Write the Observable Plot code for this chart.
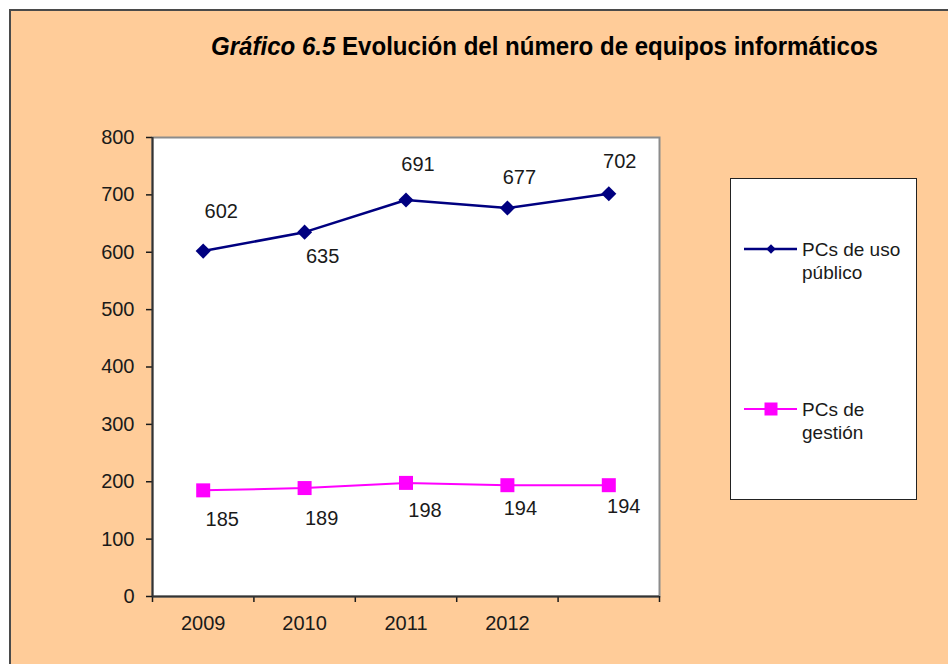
<!DOCTYPE html>
<html><head><meta charset="utf-8">
<script src="https://cdn.jsdelivr.net/npm/d3@7"></script>
<script src="https://cdn.jsdelivr.net/npm/@observablehq/plot@0.6"></script>
<style>
html,body{margin:0;padding:0;background:#fff;width:948px;height:664px;overflow:hidden;}
#page{position:absolute;left:9px;top:9px;width:960px;height:680px;background:#FFCC99;border:2px solid #4a4a4a;box-sizing:border-box;}
#chart{position:absolute;left:0;top:0;width:948px;height:664px;font-family:"Liberation Sans",Arial,sans-serif;}
#title{position:relative;width:948px;height:100px;}
#title svg, #legend svg{display:block;}
#plot svg{display:block;}
#legend{position:absolute;left:730px;top:178px;width:187px;height:322px;background:#fff;border:1.5px solid #222;box-sizing:border-box;}
</style>
</head><body>
<div id="page"></div>
<div id="chart">
  <div id="title"></div>
  <div id="plot"></div>
  <div id="legend"></div>
</div>
<script>
// ---- data ----
const years = ["2009", "2010", "2011", "2012", "2013"];
const tickLabels = ["2009", "2010", "2011", "2012", ""];
const publicos = [602, 635, 691, 677, 702];
const gestion = [185, 189, 198, 194, 194];
const seriesNames = ["PCs de uso público", "PCs de gestión"];
const legendLines = [["PCs de uso", "público"], ["PCs de", "gestión"]];
const titleItalic = "Gráfico 6.5";
const titleRest = " Evolución del número de equipos informáticos";
const yTicks = [0, 100, 200, 300, 400, 500, 600, 700, 800];

// ---- layout (label offsets, px) ----
const pubLabelOffset = [[18, -40], [18, 24], [12, -35], [12, -30], [11, -32]];
const gesLabelOffset = [[19, 29], [17, 31], [19, 28], [13, 23], [15, 21]];

const NAVY = "#000080", MAGENTA = "#FF00FF";
const FONT = "Liberation Sans, Arial, sans-serif";

// ---- title ----
const tsvg = d3.select("#title").append("svg").attr("width", 948).attr("height", 100);
const tt = tsvg.append("text").attr("x", 211).attr("y", 55)
  .attr("font-family", FONT).attr("font-size", 25).attr("font-weight", "bold").attr("fill", "#000")
  .attr("textLength", 667).attr("lengthAdjust", "spacingAndGlyphs");
tt.append("tspan").attr("font-style", "italic").text(titleItalic);
tt.append("tspan").text(titleRest);

// ---- chart ----
const rowsP = years.map((yr, i) => ({i, year: yr, v: publicos[i], s: seriesNames[0]}));
const rowsG = years.map((yr, i) => ({i, year: yr, v: gestion[i], s: seriesNames[1]}));
const xc = d => d.i + 0.5;

const labelMarks = [
  ...rowsP.map((d, k) => Plot.text([d], {x: xc, y: "v", text: d => String(d.v), dx: pubLabelOffset[k][0], dy: pubLabelOffset[k][1], fontSize: 20, fill: "#1a1a1a"})),
  ...rowsG.map((d, k) => Plot.text([d], {x: xc, y: "v", text: d => String(d.v), dx: gesLabelOffset[k][0], dy: gesLabelOffset[k][1], fontSize: 20, fill: "#1a1a1a"}))
];

const chart = Plot.plot({
  width: 948, height: 564,
  marginTop: 37, marginLeft: 152, marginRight: 289, marginBottom: 68,
  style: {background: "transparent", fontFamily: FONT, fontSize: "20px", color: "#1a1a1a", overflow: "visible"},
  x: {type: "linear", domain: [0, years.length]},
  y: {domain: [0, 800]},
  marks: [
    Plot.frame({fill: "white", stroke: "#8c8c8c", strokeWidth: 2}),
    Plot.axisY({ticks: yTicks, tickSize: 6, tickPadding: 12, label: null, strokeWidth: 1.5}),
    Plot.axisX({ticks: d3.range(0, years.length + 1), tickSize: 6, tickFormat: () => "", label: null, strokeWidth: 1.5}),
    Plot.axisX({ticks: years.map((y, i) => i + 0.5), tickSize: 0, tickPadding: 19, tickFormat: d => tickLabels[Math.floor(d)], label: null}),
    Plot.ruleX([0], {stroke: "#333", strokeWidth: 2}),
    Plot.ruleY([0], {stroke: "#333", strokeWidth: 2}),
    Plot.line(rowsP, {x: xc, y: "v", stroke: NAVY, strokeWidth: 2.5}),
    Plot.dot(rowsP, {x: xc, y: "v", symbol: "diamond2", fill: NAVY, stroke: "none", r: 6.8}),
    Plot.line(rowsG, {x: xc, y: "v", stroke: MAGENTA, strokeWidth: 2}),
    Plot.dot(rowsG, {x: xc, y: "v", symbol: "square", fill: MAGENTA, stroke: "none", r: 7.9}),
    ...labelMarks
  ]
});
document.getElementById("plot").appendChild(chart);

// ---- legend ----
const lsvg = d3.select("#legend").append("svg").attr("width", 184).attr("height", 319);
const entries = [
  {color: NAVY, sym: d3.symbolDiamond2, size: 58, y: 70, lines: legendLines[0], w: 2.5},
  {color: MAGENTA, sym: d3.symbolSquare, size: 169, y: 230, lines: legendLines[1], w: 2}
];
entries.forEach(e => {
  const g = lsvg.append("g");
  g.append("line").attr("x1", 13).attr("x2", 66).attr("y1", e.y).attr("y2", e.y)
    .attr("stroke", e.color).attr("stroke-width", e.w);
  g.append("path").attr("d", d3.symbol(e.sym, e.size)()).attr("transform", `translate(40,${e.y})`).attr("fill", e.color);
  e.lines.forEach((t, j) => {
    g.append("text").attr("x", 71).attr("y", e.y + 7 + j * 23)
      .attr("font-family", FONT).attr("font-size", 19).attr("fill", "#1a1a1a").text(t);
  });
});
</script>
</body></html>
